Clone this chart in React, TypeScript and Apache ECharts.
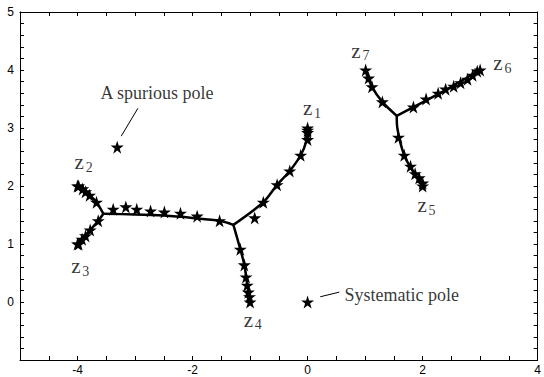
import React, { useEffect, useRef } from "react";
import * as echarts from "echarts";

// Branch lines (data coordinates)
const branchZ1 = [[-1.29, 1.33], [-0.77, 1.72], [-0.53, 2.02], [-0.31, 2.26], [-0.12, 2.53], [-0.02, 2.78], [0, 3.0]];
const branchZ4 = [[-1.29, 1.33], [-1.17, 0.91], [-1.1, 0.64], [-1.05, 0.3], [-1.0, 0.0]];
const branchMid = [[-3.55, 1.52], [-3.0, 1.51], [-2.5, 1.49], [-2.0, 1.45], [-1.53, 1.4], [-1.29, 1.33]];
const branchZ2 = [[-3.55, 1.52], [-3.67, 1.72], [-3.8, 1.85], [-4.0, 2.0]];
const branchZ3 = [[-3.55, 1.52], [-3.64, 1.4], [-3.78, 1.24], [-4.0, 1.0]];
const branchZ7 = [[1.55, 3.21], [1.3, 3.45], [1.12, 3.71], [1.0, 4.0]];
const branchZ6 = [[1.55, 3.21], [1.84, 3.36], [2.3, 3.6], [3.0, 4.0]];
const branchZ5 = [[1.55, 3.21], [1.56, 3.0], [1.68, 2.53], [1.85, 2.22], [2.0, 2.0]];

// Star markers (poles)
const starsZ1 = [[0, 3.0], [0, 2.96], [0, 2.92], [0, 2.8], [-0.12, 2.53], [-0.31, 2.26], [-0.53, 2.02], [-0.77, 1.72], [-0.92, 1.45]];
const starsZ4 = [[-1.17, 0.91], [-1.1, 0.64], [-1.07, 0.43], [-1.05, 0.29], [-1.03, 0.17], [-1.01, 0.09], [-1.0, 0.0]];
const starsMid = [[-3.38, 1.6], [-3.16, 1.64], [-2.97, 1.6], [-2.73, 1.57], [-2.49, 1.55], [-2.21, 1.53], [-1.92, 1.48], [-1.53, 1.4]];
const starsZ2 = [[-3.67, 1.72], [-3.79, 1.84], [-3.86, 1.9], [-3.91, 1.95], [-3.98, 2.0], [-4.0, 2.0]];
const starsZ3 = [[-3.64, 1.4], [-3.78, 1.24], [-3.86, 1.14], [-3.92, 1.08], [-3.98, 1.0], [-4.0, 1.0]];
const starsZ7 = [[1.3, 3.45], [1.12, 3.71], [1.06, 3.86], [1.01, 4.0]];
const starsZ6 = [[1.84, 3.36], [2.06, 3.5], [2.27, 3.6], [2.4, 3.67], [2.54, 3.72], [2.66, 3.78], [2.78, 3.84], [2.87, 3.91], [2.95, 3.98], [3.0, 4.0]];
const starsZ5 = [[1.58, 2.84], [1.68, 2.53], [1.79, 2.34], [1.87, 2.21], [1.94, 2.14], [2.0, 2.05], [2.0, 2.0]];
const starsOther = [[-3.31, 2.67], [0, 0]];

// Zero labels (position of the "z")
const zeroLabels = [
  { name: "1", coord: [0.0, 3.34] },
  { name: "2", coord: [-3.97, 2.41] },
  { name: "3", coord: [-4.03, 0.62] },
  { name: "4", coord: [-1.03, -0.31] },
  { name: "5", coord: [1.99, 1.67] },
  { name: "6", coord: [3.31, 4.12] },
  { name: "7", coord: [0.84, 4.33] },
];

// Annotations
const annotSpurious = { text: "A spurious pole", coord: [-3.6, 3.6], pointer: [[-3.24, 2.86], [-2.95, 3.34]] };
const annotSystematic = { text: "Systematic pole", coord: [0.64, 0.12], pointer: [[0.22, 0.09], [0.55, 0.17]] };

const xMin = -5, xMax = 4, yMin = -1, yMax = 5;

const STAR = "path://M50,0 L61.2,34.5 L97.6,34.5 L68.2,55.9 L79.4,90.5 L50,69.1 L20.6,90.5 L31.8,55.9 L2.4,34.5 L38.8,34.5 Z";
const SERIF = "Liberation Serif";
const SANS = "Liberation Sans";

export default function App() {
  const ref = useRef<HTMLDivElement>(null);
  useEffect(() => {
    document.body.style.margin = "0";
    if (!ref.current) return;
    const chart = echarts.init(ref.current, undefined, { renderer: "svg" });
    const lineSeries = (d: number[][]) => ({
      type: "line",
      data: d,
      smooth: 0.3,
      symbol: "none",
      lineStyle: { color: "#000", width: 2.5 },
      z: 2,
    });
    const starSeries = (d: number[][]) => ({
      type: "scatter",
      data: d,
      symbol: STAR,
      symbolSize: 13,
      itemStyle: { color: "#000", opacity: 1 },
      z: 3,
    });
    const isInt = (v: number) => Math.abs(v - Math.round(v)) < 1e-6;
    const baseTick = { show: true, inside: true, length: 4, lineStyle: { color: "#000" } };
    const option: any = {
      animation: false,
      backgroundColor: "#fff",
      color: ["#000"],
      grid: { left: 20, right: 1, top: 12, bottom: 17 },
      xAxis: [
        {
          type: "value", min: xMin, max: xMax, interval: 0.5, position: "bottom",
          axisLine: { show: true, onZero: false, lineStyle: { color: "#000", width: 1 } },
          axisTick: baseTick,
          splitLine: { show: false },
          axisLabel: {
            color: "#000", fontFamily: SANS, fontSize: 12, margin: 4, showMaxLabel: true, showMinLabel: true,
            formatter: (v: number) => (isInt(v) && Math.round(v) % 2 === 0 ? String(Math.round(v)) : ""),
          },
        },
        {
          type: "value", min: xMin, max: xMax, interval: 0.5, position: "top",
          axisLine: { show: true, onZero: false, lineStyle: { color: "#000", width: 1 } },
          axisTick: baseTick, axisLabel: { show: false }, splitLine: { show: false },
        },
      ],
      yAxis: [
        {
          type: "value", min: yMin, max: yMax, interval: 0.2, position: "left",
          axisLine: { show: true, onZero: false, lineStyle: { color: "#000", width: 1 } },
          axisTick: baseTick,
          splitLine: { show: false },
          axisLabel: {
            color: "#000", fontFamily: SANS, fontSize: 12, margin: 6, showMaxLabel: true,
            formatter: (v: number) => (isInt(v) && Math.round(v) >= 0 ? String(Math.round(v)) : ""),
          },
        },
        {
          type: "value", min: yMin, max: yMax, interval: 0.2, position: "right",
          axisLine: { show: true, onZero: false, lineStyle: { color: "#000", width: 1 } },
          axisTick: baseTick, axisLabel: { show: false }, splitLine: { show: false },
        },
      ],
      series: [
        lineSeries(branchZ1), lineSeries(branchZ4), lineSeries(branchMid), lineSeries(branchZ2),
        lineSeries(branchZ3), lineSeries(branchZ7), lineSeries(branchZ6), lineSeries(branchZ5),
        starSeries(starsZ1), starSeries(starsZ4), starSeries(starsMid), starSeries(starsZ2),
        starSeries(starsZ3), starSeries(starsZ7), starSeries(starsZ6), starSeries(starsZ5),
        starSeries(starsOther),
        {
          type: "line", data: annotSpurious.pointer, symbol: "none",
          lineStyle: { color: "#000", width: 1 }, z: 2,
        },
        {
          type: "line", data: annotSystematic.pointer, symbol: "none",
          lineStyle: { color: "#000", width: 1 }, z: 2,
        },
        {
          type: "scatter", symbolSize: 0, z: 4,
          itemStyle: { color: "#000" },
          data: [
            { value: annotSpurious.coord, name: annotSpurious.text },
            { value: annotSystematic.coord, name: annotSystematic.text },
          ],
          label: {
            show: true, position: "right", distance: 0, formatter: "{b}",
            color: "#000", fontFamily: SERIF, fontSize: 18,
          },
        },
        {
          type: "scatter", symbolSize: 0, z: 4,
          itemStyle: { color: "#000" },
          data: zeroLabels.map((l) => ({ value: l.coord, name: l.name })),
          label: {
            show: true, position: "inside", formatter: "z",
            color: "#000", fontFamily: SERIF, fontSize: 21,
            textBorderWidth: 0,
          },
        },
        {
          type: "scatter", symbolSize: 0, z: 4,
          itemStyle: { color: "#000" },
          data: zeroLabels.map((l) => ({ value: l.coord, name: l.name })),
          label: {
            show: true, position: "inside", formatter: "{b}", offset: [10, 5],
            color: "#000", fontFamily: SERIF, fontSize: 14,
            textBorderWidth: 0,
          },
        },
      ],
    };
    chart.setOption(option);
    return () => chart.dispose();
  }, []);
  return <div ref={ref} style={{ width: 544, height: 377 }} />;
}
